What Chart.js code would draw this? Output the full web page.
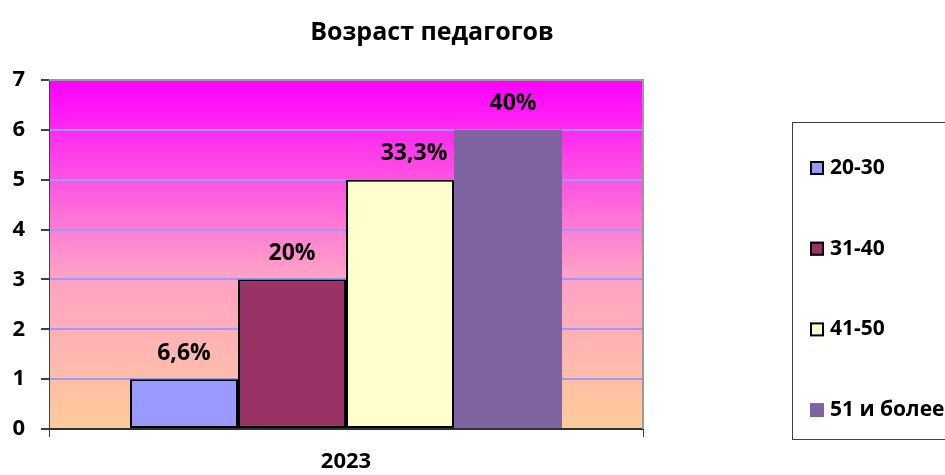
<!DOCTYPE html>
<html>
<head>
<meta charset="utf-8">
<script src="https://cdn.jsdelivr.net/npm/chart.js@4"></script>
<style>
  html, body { margin: 0; padding: 0; background: #fff; }
  #wrap { width: 945px; height: 475px; }
</style>
</head>
<body>
<div id="wrap"><canvas id="chart" width="945" height="475"></canvas></div>
<script>
// chart data
const chartTitle = 'Возраст педагогов';
const categories = ['2023'];
const seriesNames = ['20-30', '31-40', '41-50', '51 и более'];
const seriesValues = [1, 3, 5, 6];
const valueLabels = ['6,6%', '20%', '33,3%', '40%'];
const seriesColors = ['#9999FF', '#993366', '#FFFFCC', '#8064A2'];
const seriesBorders = [2, 2, 2, 0];
const yTicks = [0, 1, 2, 3, 4, 5, 6, 7];

const FONT = '"Open Sans", "Noto Sans", sans-serif';

// plot area background gradient
const plotBackground = {
    id: 'plotBackground',
    beforeDraw(chart) {
        const { ctx, chartArea: a } = chart;
        const g = ctx.createLinearGradient(0, a.top, 0, a.bottom);
        g.addColorStop(0, '#FF00FF');
        g.addColorStop(0.55, '#FFA0C8');
        g.addColorStop(1, '#FFCC99');
        ctx.save();
        ctx.fillStyle = g;
        ctx.fillRect(a.left, a.top, a.right - a.left, a.bottom - a.top);
        ctx.restore();
    },
    afterDraw(chart) {
        // gray frame on top / right like the excel plot area
        const { ctx, chartArea: a } = chart;
        ctx.save();
        ctx.strokeStyle = '#999999';
        ctx.lineWidth = 2;
        ctx.beginPath();
        ctx.moveTo(a.left, a.top);
        ctx.lineTo(a.right, a.top);
        ctx.lineTo(a.right, a.bottom);
        ctx.stroke();
        ctx.restore();
    }
};

// percent labels above the bars
const barLabels = {
    id: 'barLabels',
    afterDatasetsDraw(chart) {
        const { ctx } = chart;
        const shift = [0, 0, 14, 5];
        ctx.save();
        ctx.font = 'bold 23px ' + FONT;
        ctx.fillStyle = '#000';
        ctx.textAlign = 'center';
        ctx.textBaseline = 'middle';
        chart.data.datasets.forEach((ds, i) => {
            const bar = chart.getDatasetMeta(i).data[0];
            ctx.fillText(valueLabels[i], bar.x + shift[i], bar.y - 26);
        });
        ctx.restore();
    }
};

// title drawn centered over whole picture
const titleDraw = {
    id: 'titleDraw',
    afterDraw(chart) {
        const { ctx } = chart;
        ctx.save();
        ctx.font = 'bold 25px ' + FONT;
        ctx.fillStyle = '#000';
        ctx.textAlign = 'center';
        ctx.textBaseline = 'middle';
        ctx.fillText(chartTitle, 432, 33);
        ctx.restore();
    }
};

// boxed legend at the right
const boxLegend = {
    id: 'boxLegend',
    afterDraw(chart) {
        const { ctx } = chart;
        ctx.save();
        ctx.strokeStyle = '#404040';
        ctx.lineWidth = 1;
        ctx.strokeRect(792.5, 122.5, 200, 317);
        ctx.font = 'bold 21px ' + FONT;
        ctx.textBaseline = 'middle';
        ctx.textAlign = 'left';
        chart.data.datasets.forEach((ds, i) => {
            const y = 168 + i * 80.7;
            ctx.fillStyle = ds.backgroundColor;
            ctx.fillRect(810, y - 7, 14, 14);
            if (ds.borderWidth > 0) {
                ctx.strokeStyle = '#000';
                ctx.lineWidth = 2;
                ctx.strokeRect(811, y - 6, 12, 12);
            }
            ctx.fillStyle = '#000';
            ctx.fillText(ds.label, 830, y);
        });
        ctx.restore();
    }
};

const datasets = seriesNames.map((name, i) => ({
    label: name,
    data: [seriesValues[i]],
    backgroundColor: seriesColors[i],
    borderColor: '#000000',
    borderWidth: seriesBorders[i],
    borderSkipped: false,
    categoryPercentage: 0.7273,
    barPercentage: 1.0
}));

new Chart(document.getElementById('chart'), {
    type: 'bar',
    data: { labels: categories, datasets: datasets },
    options: {
        responsive: false,
        animation: false,
        layout: { padding: { left: 0, right: 302, top: 80, bottom: 0 } },
        plugins: {
            legend: { display: false },
            title: { display: false },
            tooltip: { enabled: false }
        },
        scales: {
            x: {
                afterFit(scale) { scale.height = 46; },
                grid: {
                    offset: true,
                    drawOnChartArea: false,
                    tickLength: 8,
                    color: '#404040',
                    lineWidth: 1
                },
                border: { color: '#333333', width: 2 },
                ticks: {
                    color: '#000',
                    padding: 12,
                    font: { family: FONT, size: 22, weight: 'bold' }
                }
            },
            y: {
                min: yTicks[0],
                max: yTicks[yTicks.length - 1],
                afterFit(scale) { scale.width = 49; },
                afterBuildTicks(scale) { scale.ticks = yTicks.map(v => ({ value: v })); },
                grid: {
                    tickLength: 8,
                    tickColor: '#404040',
                    color: ctx => {
                        const v = ctx.tick ? ctx.tick.value : 0;
                        if (v === 0) return 'rgba(0,0,0,0)';
                        if (v === 7) return '#999999';
                        return '#9999FF';
                    },
                    lineWidth: 2
                },
                border: { color: '#404040', width: 1 },
                ticks: {
                    color: '#000',
                    padding: 16,
                    font: { family: FONT, size: 22, weight: 'bold' }
                }
            }
        }
    },
    plugins: [plotBackground, barLabels, titleDraw, boxLegend]
});
</script>
</body>
</html>
